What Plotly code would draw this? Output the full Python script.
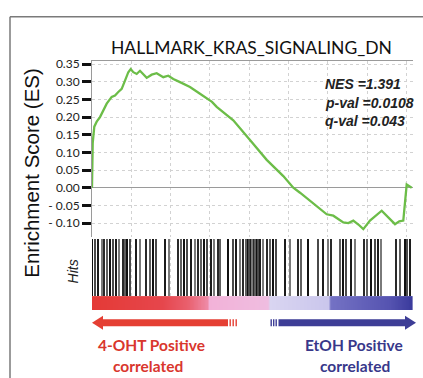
import plotly.graph_objects as go

W, H = 423, 378
N_GENES = 16340

# Running enrichment score along the ranked gene list
es_rank = [0, 36, 117, 239, 407, 575, 748, 1003, 1171, 1339, 1512, 1680, 1848,
           1970, 2102, 2275, 2443, 2784, 3039, 3293, 3629, 3884, 4138, 4479,
           4988, 5497, 6108, 6347, 7192, 8042, 8893, 9738, 10247, 10588, 11438,
           11947, 12283, 12792, 13050, 13301, 13560, 13810, 14150, 14746, 15423,
           15640, 15846, 16019, 16274]
es_value = [0.0, 0.126, 0.173, 0.187, 0.200, 0.219, 0.238, 0.257, 0.261, 0.271,
            0.280, 0.303, 0.327, 0.336, 0.327, 0.322, 0.331, 0.311, 0.320,
            0.324, 0.313, 0.317, 0.308, 0.299, 0.285, 0.266, 0.243, 0.229,
            0.191, 0.135, 0.079, 0.033, 0.0, -0.014, -0.051, -0.075, -0.079,
            -0.098, -0.100, -0.093, -0.104, -0.117, -0.093, -0.065, -0.103,
            -0.095, -0.093, 0.009, 0.0]

# Positions of gene-set members in the ranked list
hit_rank = [15, 153, 321, 494, 626, 779, 916, 1084, 1257, 1390, 1563, 1680,
            1817, 1934, 2275, 2443, 2784, 2952, 3120, 3293, 3716, 3919, 4393,
            4530, 4698, 4871, 5075, 5243, 5411, 5548, 5716, 5889, 6057, 6225,
            6429, 6531, 6938, 7192, 7365, 7534, 7701, 7874, 7940, 8017, 8093,
            8170, 8246, 8322, 8399, 8475, 8551, 8719, 8893, 9060, 9228, 9401,
            9823, 10078, 10500, 10674, 11010, 11519, 11773, 12028, 12201, 12623,
            12791, 12964, 13219, 13387, 13860, 14033, 14237, 14405, 14573,
            14746, 15510, 15677, 15932, 16069, 16186]

y_tickvals = [0.35, 0.30, 0.25, 0.20, 0.15, 0.10, 0.05, 0.00, -0.05, -0.10]
y_ticktext = ["0.35", "0.30", "0.25", "0.20", "0.15", "0.10", "0.05", "0.00",
              "- 0.05", "- 0.10"]

stats_lines = ["NES =1.391", "p-val =0.0108", "q-val =0.043"]

# Ranked-metric colour band (red = 4-OHT side, blue = EtOH side)
band_scale = [[0.00, "#e43a36"], [0.22, "#e6464c"], [0.30, "#e9606e"],
              [0.36, "#ee8aa6"], [0.365, "#f2b2d8"], [0.55, "#efbde0"],
              [0.555, "#d9d5f1"], [0.74, "#cac6ec"], [0.745, "#7472c4"],
              [0.93, "#5553b0"], [1.00, "#3a3a9c"]]


def fx(x):
    return x / W


def fy(y):
    return 1 - y / H


ES_DOM = [fy(235), fy(57)]
HIT_DOM = [fy(295), fy(237)]
BAND_DOM = [fy(309), fy(295)]
X_DOM = [fx(92), fx(413)]

fig = go.Figure()

fig.add_trace(go.Scatter(
    x=es_rank, y=es_value, mode="lines",
    line=dict(color="#6cbd48", width=2.3),
    xaxis="x", yaxis="y", hoverinfo="skip", showlegend=False))

shades = ["#111111", "#4a4a4a", "#1c1c1c", "#7a7a7a", "#2a2a2a", "#5e5e5e"]
fig.add_trace(go.Bar(
    x=hit_rank, y=[1] * len(hit_rank), width=72,
    marker=dict(color=[shades[i % len(shades)] for i in range(len(hit_rank))],
                line=dict(width=0)),
    xaxis="x2", yaxis="y2", hoverinfo="skip", showlegend=False))

band_x = list(range(0, N_GENES + 1, 40))
fig.add_trace(go.Heatmap(
    x=band_x, y=[0], z=[band_x], zmin=0, zmax=N_GENES,
    colorscale=band_scale, showscale=False,
    xaxis="x3", yaxis="y3", hoverinfo="skip"))

grid = dict(showgrid=True, gridcolor="#d2d2d2", griddash="dot", gridwidth=1)
xcommon = dict(domain=X_DOM, range=[0, N_GENES], tick0=0, dtick=2000,
               showticklabels=False, ticks="", zeroline=False)

shapes = []
# outer frame (top and left edges)
shapes.append(dict(type="line", xref="paper", yref="paper",
                   x0=fx(10), x1=fx(423), y0=fy(12), y1=fy(12),
                   line=dict(color="#7a7a7a", width=1.5)))
shapes.append(dict(type="line", xref="paper", yref="paper",
                   x0=fx(10), x1=fx(10), y0=fy(12), y1=fy(378),
                   line=dict(color="#7a7a7a", width=1.5)))

RED = "#e53f33"
BLUE = "#3d3d96"
ay = 322
# red arrow pointing left
shapes.append(dict(type="path", xref="paper", yref="paper",
                   path=f"M {fx(92)} {fy(ay)} L {fx(103)} {fy(ay-7)} L {fx(103)} {fy(ay+7)} Z",
                   fillcolor=RED, line=dict(width=0)))
shapes.append(dict(type="rect", xref="paper", yref="paper",
                   x0=fx(102), x1=fx(228), y0=fy(ay+3.5), y1=fy(ay-3.5),
                   fillcolor=RED, line=dict(width=0)))
for x0 in [229.5, 232.5, 235.5]:
    shapes.append(dict(type="rect", xref="paper", yref="paper",
                       x0=fx(x0), x1=fx(x0 + 1.4), y0=fy(ay+3.5), y1=fy(ay-3.5),
                       fillcolor=RED, line=dict(width=0)))
# blue arrow pointing right
for x0 in [270.5, 273.0, 275.5]:
    shapes.append(dict(type="rect", xref="paper", yref="paper",
                       x0=fx(x0), x1=fx(x0 + 1.4), y0=fy(ay+3.5), y1=fy(ay-3.5),
                       fillcolor=BLUE, line=dict(width=0)))
shapes.append(dict(type="rect", xref="paper", yref="paper",
                   x0=fx(278.5), x1=fx(406), y0=fy(ay+3.5), y1=fy(ay-3.5),
                   fillcolor=BLUE, line=dict(width=0)))
shapes.append(dict(type="path", xref="paper", yref="paper",
                   path=f"M {fx(416)} {fy(ay)} L {fx(405)} {fy(ay-7)} L {fx(405)} {fy(ay+7)} Z",
                   fillcolor=BLUE, line=dict(width=0)))

annotations = [
    dict(text="HALLMARK_KRAS_SIGNALING_DN", x=fx(251), y=fy(43),
         font=dict(family="Lato", size=17.5, color="#111")),
    dict(text="Enrichment Score (ES)", x=fx(32), y=fy(170), textangle=-90,
         font=dict(family="Liberation Sans, Arial", size=20.5, color="#111")),
    dict(text="<i>Hits</i>", x=fx(73), y=fy(270), textangle=-90,
         font=dict(family="Liberation Sans, Arial", size=14, color="#222")),
    dict(text="4-OHT Positive", x=fx(151), y=fy(345),
         font=dict(family="Lato", size=15.5, color="#d9362d", weight="bold")),
    dict(text="correlated", x=fx(148), y=fy(366),
         font=dict(family="Lato", size=15.5, color="#d9362d", weight="bold")),
    dict(text="EtOH Positive", x=fx(354), y=fy(345),
         font=dict(family="Lato", size=15.5, color="#38388a", weight="bold")),
    dict(text="correlated", x=fx(355), y=fy(366),
         font=dict(family="Lato", size=15.5, color="#38388a", weight="bold")),
]
for i, line in enumerate(stats_lines):
    annotations.append(dict(
        text=f"<b><i>{line}</i></b>", x=fx(323), y=fy(80 + 19 * i),
        xanchor="left",
        font=dict(family="Liberation Sans, Arial", size=14, color="#222")))
for a in annotations:
    a.setdefault("xref", "paper")
    a.setdefault("yref", "paper")
    a.setdefault("showarrow", False)
    a.setdefault("xanchor", "center")
    a.setdefault("yanchor", "middle")

fig.update_layout(
    width=W, height=H, margin=dict(l=0, r=0, t=0, b=0),
    paper_bgcolor="white", plot_bgcolor="white",
    bargap=0,
    xaxis=dict(**xcommon, **grid, anchor="y", side="top", showline=True,
               linecolor="#9a9a9a", linewidth=1),
    yaxis=dict(domain=ES_DOM, range=[-0.139, 0.358], **grid,
               tickvals=y_tickvals, ticktext=y_ticktext,
               ticks="outside", ticklen=9, tickwidth=3, tickcolor="#111",
               tickfont=dict(family="Lato", size=12, color="#222"),
               showline=True, linecolor="#9a9a9a", linewidth=1,
               zeroline=True, zerolinecolor="#9a9a9a", zerolinewidth=1.2),
    xaxis2=dict(**xcommon, **grid, anchor="y2", matches="x"),
    yaxis2=dict(domain=HIT_DOM, range=[0, 1], showgrid=False,
                showticklabels=False, ticks="", zeroline=False),
    xaxis3=dict(**xcommon, showgrid=False, anchor="y3", matches="x"),
    yaxis3=dict(domain=BAND_DOM, range=[-0.5, 0.5], showgrid=False,
                showticklabels=False, ticks="", zeroline=False),
    shapes=shapes,
    annotations=annotations,
)

fig.write_html("out.html")
